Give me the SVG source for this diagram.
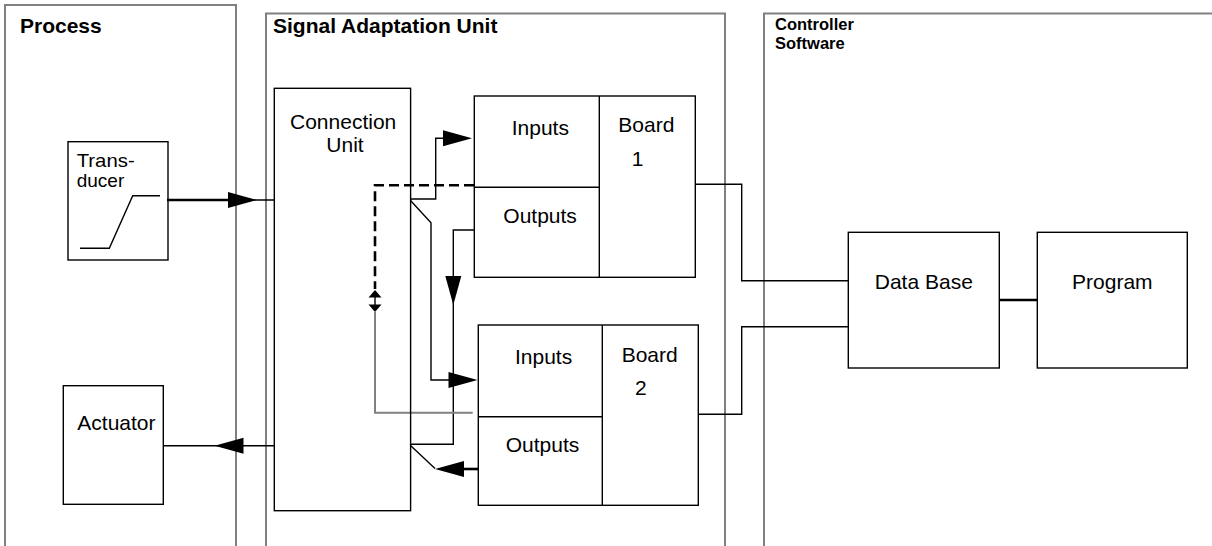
<svg xmlns="http://www.w3.org/2000/svg" width="1212" height="546" viewBox="0 0 1212 546">
  <style>
    .lane { fill: none; stroke: #808080; stroke-width: 2; }
    .box { fill: none; stroke: #000000; stroke-width: 1.4; }
    .div { fill: none; stroke: #000000; stroke-width: 1.4; }
    .wire { fill: none; stroke: #000000; stroke-width: 1.4; }
    .thick { fill: none; stroke: #000000; stroke-width: 2.6; }
    .dash { fill: none; stroke: #000000; stroke-width: 2.6; stroke-dasharray: 10 5; }
    .gray { fill: none; stroke: #808080; stroke-width: 2; }
    .head { fill: #000000; stroke: none; }
    .lbl { font-family: "Liberation Sans", Arial, sans-serif; font-size: 21px; fill: #000000; }
    .lbl-tight { font-family: "Liberation Sans", Arial, sans-serif; font-size: 19px; fill: #000000; }
    .title { font-family: "Liberation Sans", Arial, sans-serif; font-size: 21px; font-weight: bold; fill: #000000; }
    .title2 { font-family: "Liberation Sans", Arial, sans-serif; font-size: 16.5px; font-weight: bold; fill: #000000; }
  </style>
  <defs>
    <!-- right-pointing arrowhead, tip at the origin -->
    <path id="ah" d="M0,0 L-29,-8 L-29,8 Z"/>
    <!-- small up-pointing arrowhead, tip at the origin -->
    <path id="ahs" d="M0,0 L-6.5,7.5 L6.5,7.5 Z"/>
  </defs>

  <!-- swimlanes -->
  <g id="lane-process">
    <path class="lane" d="M5,546 V5 H236 V546"/>
    <text class="title" x="20" y="33">Process</text>
  </g>
  <g id="lane-signal">
    <path class="lane" d="M266,546 V13.5 H725 V546"/>
    <text class="title" x="273" y="33">Signal Adaptation Unit</text>
  </g>
  <g id="lane-controller">
    <path class="lane" d="M764,546 V13.5 H1214"/>
    <text class="title2" x="775" y="30">Controller</text>
    <text class="title2" x="775" y="49">Software</text>
  </g>

  <!-- connectors -->
  <g id="connectors">
    <!-- transducer to connection unit -->
    <path class="thick" d="M167,200 H240"/>
    <path class="wire" d="M240,200 H274"/>
    <use href="#ah" class="head" transform="translate(257,200)"/>

    <!-- connection unit to actuator -->
    <path class="wire" d="M163,445.7 H274"/>
    <use href="#ah" class="head" transform="translate(214.5,445.7) rotate(180)"/>

    <!-- connection unit to board 1 inputs -->
    <path class="wire" d="M410.5,199 H435.7 V138.3 H450"/>
    <use href="#ah" class="head" transform="translate(472,138.3)"/>

    <!-- board 1 outputs back to connection unit -->
    <path class="wire" d="M474,230 H453.3 V444.3 H410.5"/>
    <use href="#ah" class="head" transform="translate(453.3,305) rotate(90)"/>

    <!-- connection unit to board 2 inputs -->
    <path class="wire" d="M410.5,200.5 L431,222.7 V380 H455"/>
    <use href="#ah" class="head" transform="translate(477.5,380)"/>

    <!-- board 2 outputs back to connection unit -->
    <path class="thick" d="M478.5,469 H460"/>
    <use href="#ah" class="head" transform="translate(435,469) rotate(180)"/>
    <path class="wire" d="M435,468.5 L410.5,445.5"/>

    <!-- dashed feedback from board 1 with double arrow -->
    <path class="dash" d="M474,185.3 H375 V289"/>
    <path class="wire" d="M375,296 V306"/>
    <use href="#ahs" class="head" transform="translate(375,290)"/>
    <use href="#ahs" class="head" transform="translate(375,312) rotate(180)"/>
    <path class="gray" d="M375,312 V412.7 H472.7"/>

    <!-- boards to data base -->
    <path class="wire" d="M695,184.3 H741.7 V280.7 H848.3"/>
    <path class="wire" d="M698.3,414.3 H741.7 V326.7 H848.3"/>

    <!-- data base to program -->
    <path class="thick" d="M999.3,300 H1037.3"/>
  </g>

  <!-- nodes -->
  <g id="transducer">
    <rect class="box" x="68" y="141.7" width="100" height="118.3"/>
    <path class="wire" d="M80,248.3 H109.3 L132.7,195.7 H160"/>
    <text class="lbl-tight" x="76.7" y="166.5" textLength="58" lengthAdjust="spacingAndGlyphs">Trans-</text>
    <text class="lbl-tight" x="76.7" y="187">ducer</text>
  </g>

  <g id="actuator">
    <rect class="box" x="63.3" y="385.7" width="100" height="118.6"/>
    <text class="lbl" x="77.3" y="430">Actuator</text>
  </g>

  <g id="connection-unit">
    <rect class="box" x="274.3" y="88.3" width="136.3" height="422.4"/>
    <text class="lbl" x="290" y="129">Connection</text>
    <text class="lbl" x="345" y="151.7" text-anchor="middle">Unit</text>
  </g>

  <g id="board-1">
    <rect class="box" x="474.3" y="96" width="221" height="181.3"/>
    <path class="div" d="M599.3,96 V277.3 M474.3,187.3 H599.3"/>
    <text class="lbl" x="511.7" y="135">Inputs</text>
    <text class="lbl" x="503.3" y="223">Outputs</text>
    <text class="lbl" x="618.3" y="132.3">Board</text>
    <text class="lbl" x="631.7" y="166">1</text>
  </g>

  <g id="board-2">
    <rect class="box" x="478.3" y="325" width="220" height="180.3"/>
    <path class="div" d="M602.3,325 V505.3 M478.3,416.7 H602.3"/>
    <text class="lbl" x="515" y="364">Inputs</text>
    <text class="lbl" x="505.7" y="451.7">Outputs</text>
    <text class="lbl" x="621.7" y="361.7">Board</text>
    <text class="lbl" x="635" y="395">2</text>
  </g>

  <g id="data-base">
    <rect class="box" x="848.3" y="232.3" width="151" height="135.7"/>
    <text class="lbl" x="923.8" y="289" text-anchor="middle">Data Base</text>
  </g>

  <g id="program">
    <rect class="box" x="1037.3" y="232.3" width="150" height="135.7"/>
    <text class="lbl" x="1112.3" y="289" text-anchor="middle">Program</text>
  </g>
</svg>
